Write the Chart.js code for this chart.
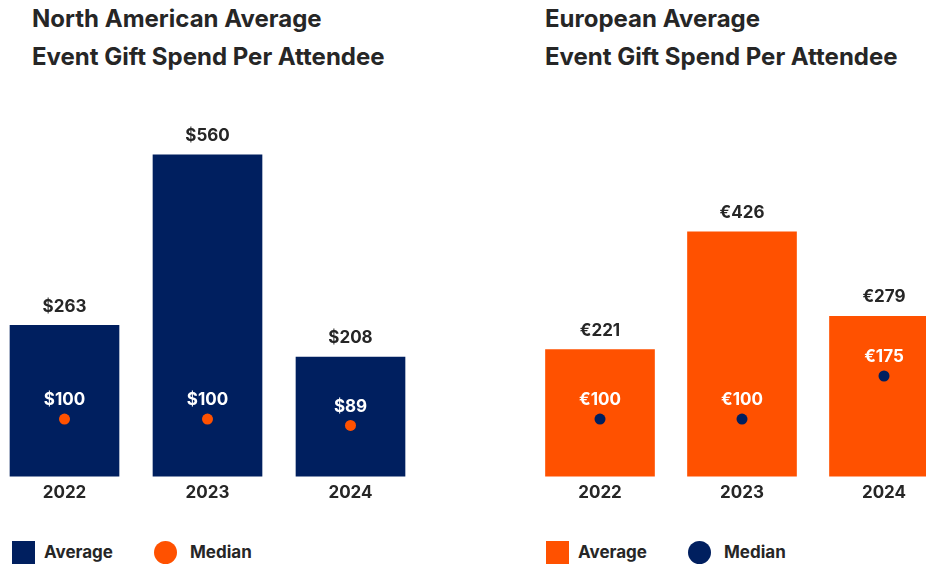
<!DOCTYPE html>
<html>
<head>
<meta charset="utf-8">
<script src="https://cdn.jsdelivr.net/npm/chart.js@4.4.0/dist/chart.umd.min.js"></script>
<style>
  html, body { margin: 0; padding: 0; background: #fff; }
  body { width: 926px; height: 565px; position: relative; overflow: hidden; font-family: Inter, "Noto Sans", sans-serif; color: #262626; }
  .title { position: absolute; top: 0; font-size: 24px; font-weight: 700; line-height: 38px; white-space: nowrap; }
  .chart { position: absolute; top: 80px; height: 429px; }
  .legend { position: absolute; top: 541px; height: 23px; font-size: 17px; font-weight: 700; }
  .legend span { position: absolute; top: 0; line-height: 23px; white-space: nowrap; }
  .sw { position: absolute; top: 0; width: 23px; height: 23px; }
</style>
</head>
<body>
<div class="title" style="left:32px">North American Average<br>Event Gift Spend Per Attendee</div>
<div class="title" style="left:545px">European Average<br>Event Gift Spend Per Attendee</div>

<div class="chart" style="left:-7px;width:429px"><canvas id="naChart"></canvas></div>
<div class="chart" style="left:529px;width:426px"><canvas id="euChart"></canvas></div>

<div class="legend" style="left:0;width:460px">
  <div class="sw" style="left:12px;background:#001f5f"></div><span style="left:44px">Average</span>
  <div class="sw" style="left:154px;background:#ff5100;border-radius:50%"></div><span style="left:190px">Median</span>
</div>
<div class="legend" style="left:0;width:926px">
  <div class="sw" style="left:546px;background:#ff5100"></div><span style="left:578px">Average</span>
  <div class="sw" style="left:688px;background:#001f5f;border-radius:50%"></div><span style="left:724px">Median</span>
</div>

<script>
const years = ["2022", "2023", "2024"];

const naAverage = [263, 560, 208];
const naMedian = [100, 100, 89];

const euAverage = [221, 426, 279];
const euMedian = [100, 100, 175];

const NAVY = "#001f5f";
const ORANGE = "#ff5100";

// draws the value labels above bars and on top of the median dots
const labelPlugin = {
    id: "valueLabels",
    afterDatasetsDraw(chart, args, opts) {
        const ctx = chart.ctx;
        ctx.save();
        ctx.font = "700 17px Inter, 'Noto Sans', sans-serif";
        ctx.textAlign = "center";
        ctx.textBaseline = "middle";

        const bars = chart.getDatasetMeta(0);
        bars.data.forEach((el, i) => {
            ctx.fillStyle = "#262626";
            ctx.fillText(opts.prefix + chart.data.datasets[0].data[i], el.x, el.y - 19);
        });

        const dots = chart.getDatasetMeta(1);
        dots.data.forEach((el, i) => {
            ctx.fillStyle = "#ffffff";
            ctx.fillText(opts.prefix + chart.data.datasets[1].data[i], el.x, el.y - 19);
        });
        ctx.restore();
    }
};

function makeChart(id, average, median, barColor, dotColor, prefix) {
    const ctx = document.getElementById(id).getContext("2d");
    return new Chart(ctx, {
        type: "bar",
        data: {
            labels: years,
            datasets: [{
                label: "Average",
                data: average,
                backgroundColor: barColor,
                barThickness: 109,
                order: 2
            }, {
                type: "line",
                label: "Median",
                data: median,
                showLine: false,
                pointRadius: 5.5,
                pointHoverRadius: 5.5,
                pointBackgroundColor: dotColor,
                pointBorderWidth: 0,
                order: 1
            }]
        },
        options: {
            responsive: true,
            maintainAspectRatio: false,
            animation: false,
            layout: { padding: 0, autoPadding: false },
            plugins: {
                legend: { display: false },
                tooltip: { enabled: false },
                valueLabels: { prefix: prefix }
            },
            scales: {
                x: {
                    grid: { display: false, drawTicks: false, tickLength: 0 },
                    border: { display: false },
                    ticks: {
                        color: "#262626",
                        padding: 6,
                        font: { family: "Inter", size: 17, weight: "700" }
                    }
                },
                y: {
                    display: false,
                    min: 0,
                    max: 690
                }
            }
        },
        plugins: [labelPlugin]
    });
}

makeChart("naChart", naAverage, naMedian, NAVY, ORANGE, "$");
makeChart("euChart", euAverage, euMedian, ORANGE, NAVY, "€");
</script>
</body>
</html>
